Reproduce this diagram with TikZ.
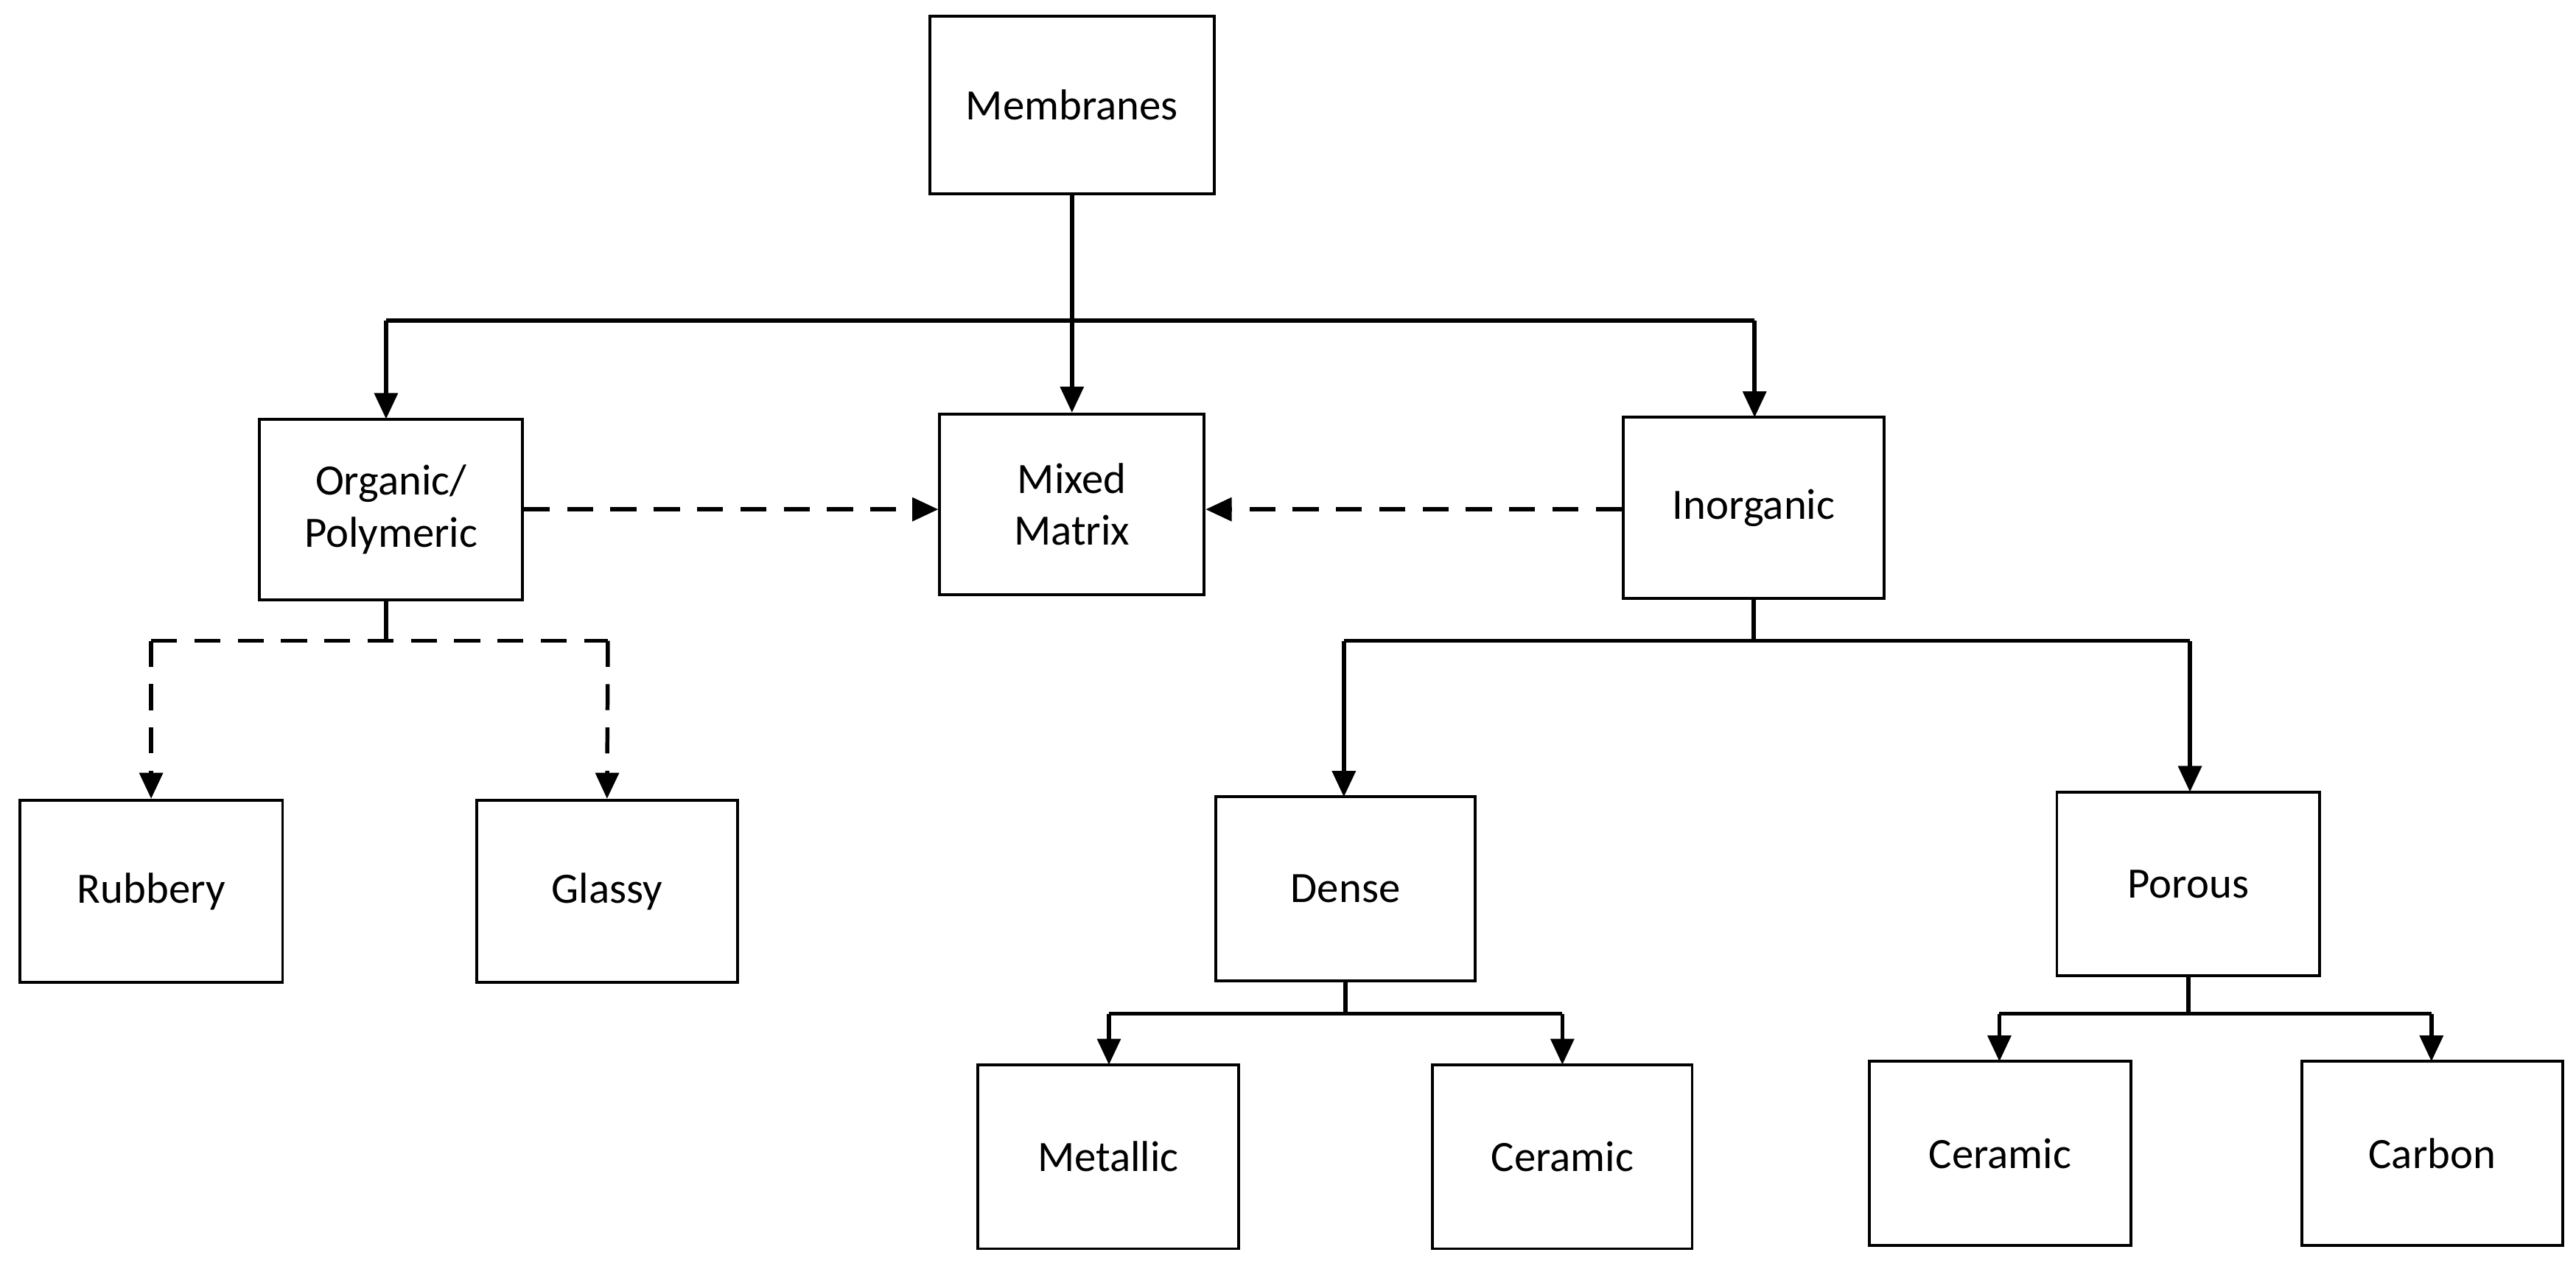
\documentclass[tikz,border=0pt]{standalone}
\usepackage{fontspec}
\setmainfont{Carlito}
\usetikzlibrary{arrows.meta}
\begin{document}
\begin{tikzpicture}[x=0.02cm,y=-0.02cm,
 box/.style={draw,line width=1pt,inner sep=0pt,align=center,font=\fontsize{15}{18}\selectfont},
 arr/.style={line width=1.4pt,-{Triangle[length=9pt,width=8pt]}},
 ln/.style={line width=1.4pt},
 dsh/.style={dash pattern=on 9pt off 6pt}]
\useasboundingbox (0,0) rectangle (1568,772);
\newcommand{\bx}[6]{\node[box,minimum width=#4*0.02cm,minimum height=#5*0.02cm] (#1) at (#2,#3) {#6};}
\bx{mem}{652.5}{64}{173}{108}{Membranes}
\bx{org}{238}{310}{160}{110}{Organic/\\Polymeric}
\bx{mix}{652.5}{307}{161}{110}{Mixed\\Matrix}
\bx{ino}{1067.5}{309}{159}{110}{Inorganic}
\bx{rub}{92}{542.5}{160}{111}{Rubbery}
\bx{gla}{369.5}{542.5}{159}{111}{Glassy}
\bx{den}{819}{541}{158}{112}{Dense}
\bx{por}{1332}{538}{160}{112}{Porous}
\bx{met}{674.5}{704}{159}{112}{Metallic}
\bx{cer}{951}{704}{158}{112}{Ceramic}
\bx{cer2}{1217.5}{702}{159}{112}{Ceramic}
\bx{car}{1480.5}{702}{159}{112}{Carbon}
\coordinate (j1) at (652.5,195);
\draw[ln] (mem.south) -- (j1);
\draw[ln] (235,195) -- (1068,195);
\draw[arr] (235,195) -- (235,255);
\draw[arr] (j1) -- (mix.north);
\draw[arr] (1068,195) -- (1068,254);
\draw[arr,dsh] (org.east |- 0,310) -- (mix.west |- 0,310);
\draw[arr,dsh] (ino.west |- 0,310) -- (mix.east |- 0,310);
\draw[ln] (235,365) -- (235,390);
\draw[ln,dsh] (92,390) -- (370,390);
\draw[arr,dsh] (92,390) -- (rub.north);
\draw[arr,dsh] (370,390) -- (gla.north);
\draw[ln] (ino.south) -- (1067.5,390);
\draw[ln] (818,390) -- (1333,390);
\draw[arr] (818,390) -- (818,485);
\draw[arr] (1333,390) -- (1333,482);
\draw[ln] (den.south) -- (819,617);
\draw[ln] (675,617) -- (951,617);
\draw[arr] (675,617) -- (675,648);
\draw[arr] (951,617) -- (951,648);
\draw[ln] (por.south) -- (1332,617);
\draw[ln] (1217,617) -- (1480,617);
\draw[arr] (1217,617) -- (1217,646);
\draw[arr] (1480,617) -- (1480,646);
\end{tikzpicture}
\end{document}
